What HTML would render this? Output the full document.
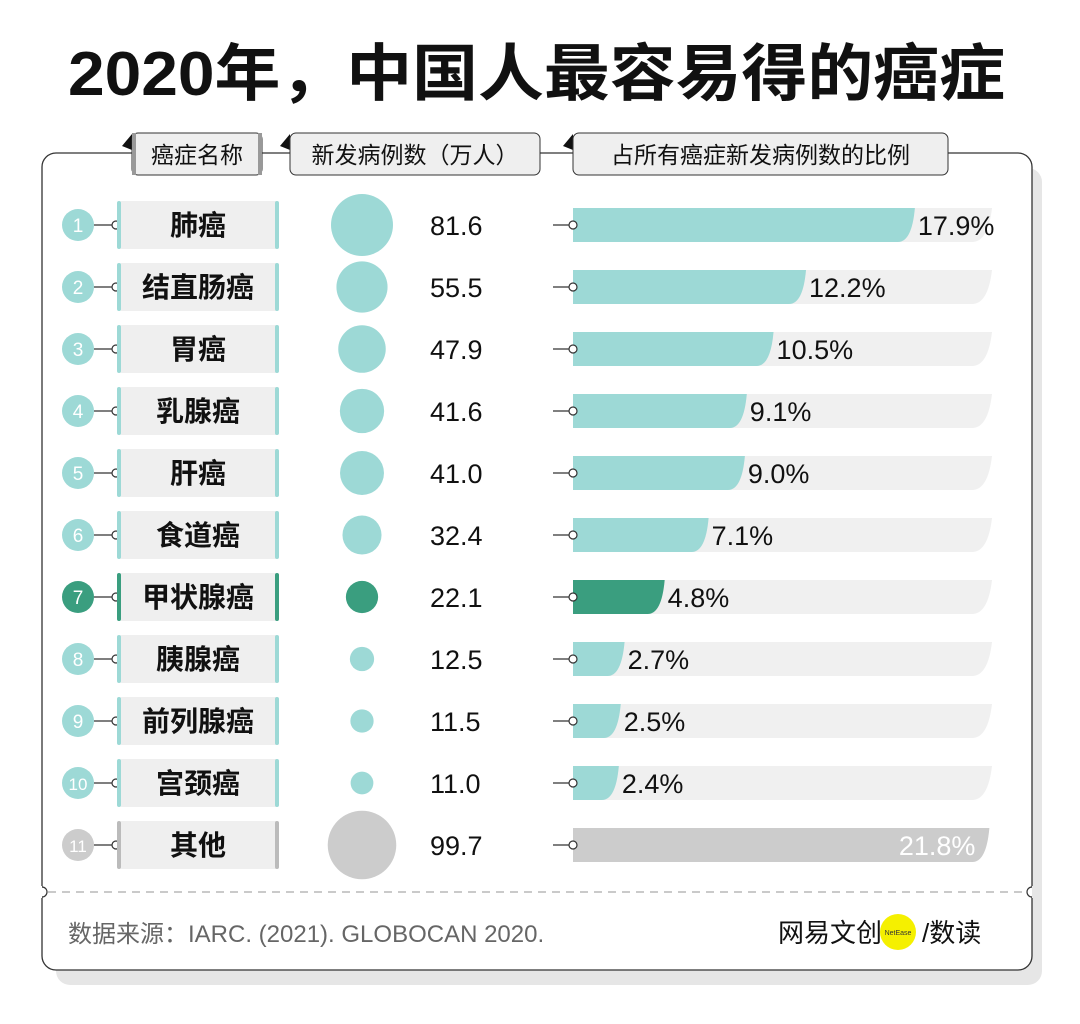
<!DOCTYPE html>
<html><head><meta charset="utf-8">
<style>
html,body{margin:0;padding:0;background:#fff;}
body{width:1080px;height:1019px;overflow:hidden;font-family:"Liberation Sans","Noto Sans CJK SC",sans-serif;}
</style></head>
<body>
<svg id="chart" width="1080" height="1019" xmlns="http://www.w3.org/2000/svg"></svg>
<script>
const categories=["肺癌","结直肠癌","胃癌","乳腺癌","肝癌","食道癌","甲状腺癌","胰腺癌","前列腺癌","宫颈癌","其他"];
const cases=[81.6,55.5,47.9,41.6,41.0,32.4,22.1,12.5,11.5,11.0,99.7];
const shares=[17.9,12.2,10.5,9.1,9.0,7.1,4.8,2.7,2.5,2.4,21.8];
const highlight=[0,0,0,0,0,0,1,0,0,0,2];

const svg=document.getElementById('chart');
const NS='http://www.w3.org/2000/svg';
function mk(tag,attrs,parent){const e=document.createElementNS(NS,tag);for(const k in attrs)e.setAttribute(k,attrs[k]);(parent||svg).appendChild(e);return e;}
const FONT='"Liberation Sans","Noto Sans CJK SC",sans-serif';
const TEAL='#9dd9d6',GREEN='#3a9e7f',GRAY='#cccccc';

let sh=mk('rect',{x:56,y:168,width:986,height:817,rx:14,fill:'#e6e6e6'});


let card=mk('rect',{x:42,y:153,width:990,height:817,rx:14,fill:'#fff',stroke:'#333','stroke-width':1.3});



let t=mk('text',{x:68,y:95,'font-size':62,'font-weight':'bold',fill:'#111','font-family':FONT,textLength:937,lengthAdjust:'spacingAndGlyphs'});
t.textContent='2020年，中国人最容易得的癌症';



function tab(x,w,label,name){
  mk('path',{d:`M${x-10},146 L${x},134 L${x},150 Z`,fill:'#111'});
  let r=mk('rect',{x:x,y:133,width:w,height:42,rx:6,fill:'#efefef',stroke:'#333','stroke-width':1});
  
  
  let tx=mk('text',{x:x+w/2,y:163,'text-anchor':'middle','font-size':23,fill:'#111','font-family':FONT});
  tx.textContent=label;
  
  
}
tab(132,130,'癌症名称','header-name');
mk('rect',{x:132,y:133,width:4,height:42,fill:'#999'});mk('rect',{x:258,y:133,width:4,height:42,fill:'#999'});
tab(290,250,'新发病例数（万人）','header-cases');
tab(573,375,'占所有癌症新发病例数的比例','header-share');

const y0=225,step=62;
const rScale=v=>31*Math.sqrt(v/81.6);
const xBar0=573,pxPer=19.1;
const xScale=v=>v*pxPer;

categories.forEach((c,i)=>{
  const y=y0+i*step;
  const col=highlight[i]===1?GREEN:highlight[i]===2?GRAY:TEAL;
  const g=mk('g',{});
  
  
  let rc=mk('circle',{cx:78,cy:y,r:16,fill:col},g);
  
  
  let rt=mk('text',{x:78,y:y+7,'text-anchor':'middle','font-size':i>=9?17:19,fill:'#fff','font-family':FONT},g);
  rt.textContent=String(i+1);
  mk('line',{x1:94,y1:y,x2:113,y2:y,stroke:'#333','stroke-width':1.2},g);
  mk('circle',{cx:116,cy:y,r:4,fill:'#fff',stroke:'#333','stroke-width':1.2},g);
  let lb=mk('rect',{x:119,y:y-24,width:160,height:48,rx:3,fill:'#efefef'},g);
  
  
  const bc=highlight[i]===2?'#bbbbbb':col;
  mk('rect',{x:117,y:y-24,width:4,height:48,rx:2,fill:bc},g);
  mk('rect',{x:275,y:y-24,width:4,height:48,rx:2,fill:bc},g);
  let lt=mk('text',{x:198,y:y+10,'text-anchor':'middle','font-size':28,'font-weight':'bold',fill:'#111','font-family':FONT},g);
  lt.textContent=c;
  
  
  let b=mk('circle',{cx:362,cy:y,r:rScale(cases[i]),fill:col},g);
  
  
  let vt=mk('text',{x:430,y:y+10,'font-size':27,fill:'#111','font-family':FONT},g);
  vt.textContent=cases[i].toFixed(1);
  
  
  const tw=419,h=34,top=y-17;
  if(highlight[i]!==2){
    let tr=mk('path',{d:`M${xBar0},${top} H${xBar0+tw} Q${xBar0+tw-4},${top+h} ${xBar0+tw-20},${top+h} H${xBar0} Z`,fill:'#f0f0f0'},g);
    
    
  }
  const w=xScale(shares[i]);
  const rr=Math.min(17,w);
  let bar=mk('path',{d:`M${xBar0},${top} H${xBar0+w} Q${xBar0+w-3},${top+h} ${xBar0+w-rr},${top+h} H${xBar0} Z`,fill:col},g);
  
  
  mk('line',{x1:553,y1:y,x2:570,y2:y,stroke:'#333','stroke-width':1.2},g);
  mk('circle',{cx:573,cy:y,r:4,fill:'#fff',stroke:'#333','stroke-width':1.2},g);
  let pt;
  if(highlight[i]===2){
    pt=mk('text',{x:xBar0+w-14,y:y+10,'text-anchor':'end','font-size':27,fill:'#fff','font-family':FONT},g);
  }else{
    pt=mk('text',{x:xBar0+w+3,y:y+10,'font-size':27,fill:'#111','font-family':FONT},g);
  }
  pt.textContent=shares[i].toFixed(1)+'%';
  
  
});

let dl=mk('line',{x1:48,y1:892,x2:1026,y2:892,stroke:'#aaa','stroke-width':1.3,'stroke-dasharray':'8,6'});


mk('circle',{cx:42,cy:892,r:5,fill:'#fff',stroke:'#333','stroke-width':1.2});
mk('circle',{cx:1032,cy:892,r:5,fill:'#fff',stroke:'#333','stroke-width':1.2});
mk('rect',{x:34,y:886,width:8,height:12,fill:'#fff'});
mk('rect',{x:1032,y:886,width:8,height:12,fill:'#e6e6e6'});

let src=mk('text',{x:68,y:942,'font-size':24,fill:'#666','font-family':FONT});
src.textContent='数据来源：IARC. (2021). GLOBOCAN 2020.';



let lg=mk('g',{});


let l1=mk('text',{x:778,y:942,'font-size':26,fill:'#111','font-family':FONT},lg);
l1.textContent='网易文创';
mk('circle',{cx:898,cy:932,r:18,fill:'#f5f000'},lg);
let l2=mk('text',{x:898,y:935,'text-anchor':'middle','font-size':7,fill:'#333','font-family':FONT},lg);
l2.textContent='NetEase';
let l3=mk('text',{x:922,y:942,'font-size':26,fill:'#111','font-family':FONT},lg);
l3.textContent='/数读';
</script>
</body></html>
